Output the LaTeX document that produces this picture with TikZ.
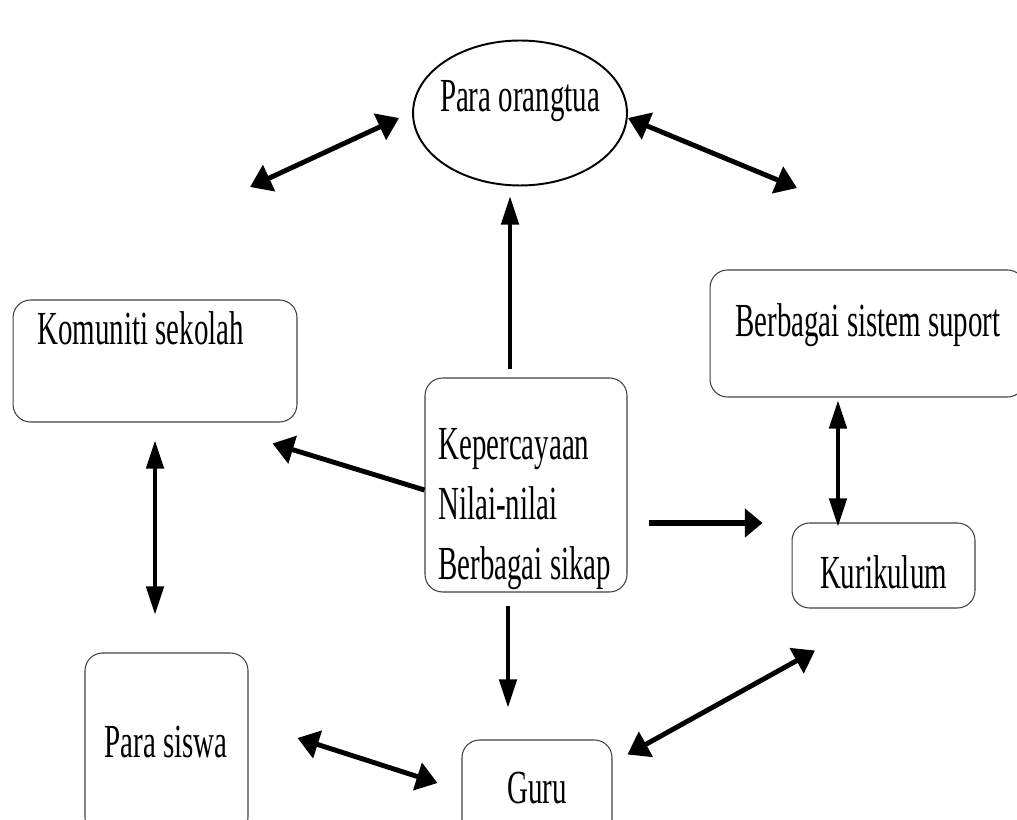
\documentclass[tikz,border=0pt]{standalone}
\usepackage{fontspec}
\setmainfont{Liberation Serif}[FakeStretch=0.61]
\usetikzlibrary{arrows.meta,shapes.geometric,calc}

\tikzset{
  kotak/.style={draw=black!75, line width=0.6pt, rounded corners=0.35cm},
  teks/.style={font=\fontsize{27}{34}\selectfont, inner sep=0pt},
  panah/.style={line width=3.6pt, -{Triangle[length=10pt,width=16pt]}},
  panahtebal/.style={line width=2.8pt, -{Triangle[length=12pt,width=16pt]}},
  panahdua/.style={line width=2.8pt, {Triangle[length=12pt,width=16pt]}-{Triangle[length=12pt,width=16pt]}},
  tipis/.style={line width=1.9pt, -{Triangle[length=16pt,width=10pt]}},
  tipisdua/.style={line width=1.9pt, {Triangle[length=16pt,width=10pt]}-{Triangle[length=16pt,width=10pt]}},
}

\begin{document}
\begin{tikzpicture}[x=0.02cm,y=-0.02cm]
\useasboundingbox (0,0) rectangle (1017,820);

\node[draw, line width=1.1pt, ellipse, minimum width=4.28cm, minimum height=2.9cm] (ortu) at (520,113) {};
\node[teks] (tortu) at (520,101) {Para orangtua};

\node[kotak, minimum width=5.68cm, minimum height=2.44cm] (komuniti) at (155,361) {};
\node[teks, anchor=base west] (tkomuniti) at (37,345) {Komuniti sekolah};

\node[kotak, minimum width=6.3cm, minimum height=2.54cm] (suport) at (867.5,333.5) {};
\node[teks, anchor=base west] (tsuport) at (735,337) {Berbagai sistem suport};

\node[kotak, minimum width=4.04cm, minimum height=4.28cm] (pusat) at (526,485) {};
\node[teks, align=left, anchor=west] (tpusat) at (438,509) {Kepercayaan\\Nilai-nilai\\Berbagai sikap};

\node[kotak, minimum width=3.66cm, minimum height=1.7cm] (kurikulum) at (883.5,565.5) {};
\node[teks] (tkurikulum) at (883.5,572) {Kurikulum};

\node[kotak, minimum width=3.26cm, minimum height=3.64cm] (siswa) at (166.5,744) {};
\node[teks] (tsiswa) at (166,742) {Para siswa};

\node[kotak, minimum width=3cm, minimum height=2.2cm] (guru) at (537,795) {};
\node[teks] (tguru) at (537,788) {Guru};

\coordinate (kiriatas) at (250,187);
\coordinate (kananatas) at (797,188);

\draw[panahdua] (kiriatas) -- ($(ortu.west)+(-13,5)$);
\draw[panahdua] ($(ortu.east)+(0,5)$) -- (kananatas);
\draw[tipis] ($(pusat.north)+(-16,-8)$) -- ($(ortu.south)+(-10,10)$);
\draw[panahtebal] ($(pusat.west)+(0,5)$) -- ($(komuniti.south east)+(-25,21)$);
\draw[panah] ($(pusat.east)+(21,38)$) -- ($(kurikulum.west)+(-29,-42.5)$);
\draw[tipisdua] ($(suport.south)+(-29.5,3)$) -- ($(kurikulum.north)+(-45.5,4)$);
\draw[tipisdua] ($(komuniti.south)+(0,18)$) -- ($(siswa.north)+(-11.5,-38)$);
\draw[tipis] ($(pusat.south)+(-18,13)$) -- ($(guru.north)+(-29,-32)$);
\draw[panahdua] ($(siswa.east)+(49,-6)$) -- ($(guru.west)+(-24,-12)$);
\draw[panahdua] ($(guru.north east)+(15,15)$) -- ($(kurikulum.south)+(-68.5,42)$);
\end{tikzpicture}
\end{document}
